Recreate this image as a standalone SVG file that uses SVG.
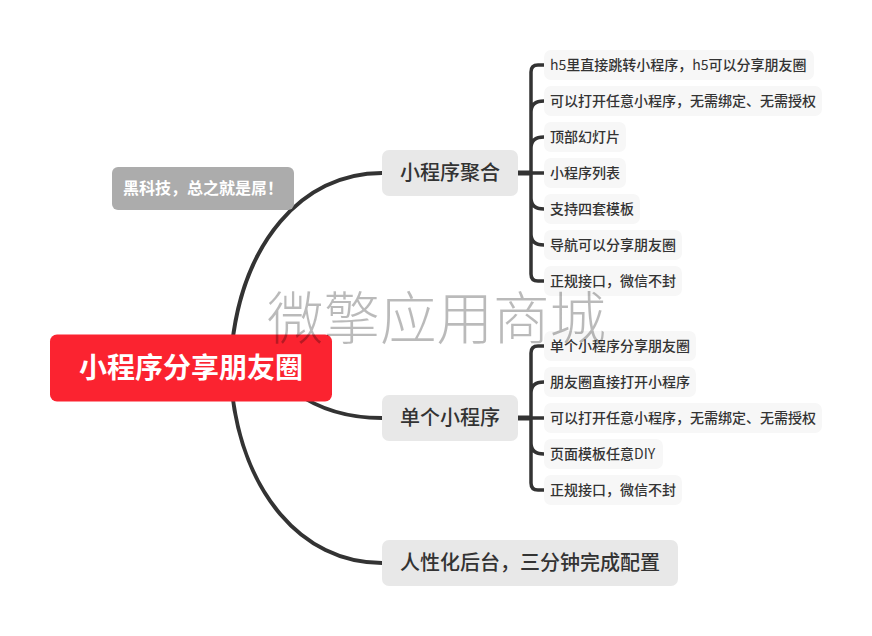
<svg xmlns="http://www.w3.org/2000/svg" width="872" height="636" viewBox="0 0 872 636">
<style>
text{font-family:"Liberation Sans","Noto Sans CJK SC",sans-serif}
.leaf rect{fill:#f7f7f7}
.leaf text{font-size:14px;font-weight:500;fill:#333}
.leaf tspan{font-family:"Noto Sans CJK SC",sans-serif;font-weight:400}
.mid rect{fill:#e8e8e8}
.mid text{font-size:20px;font-weight:500;fill:#333}
.c{fill:none;stroke:#333;stroke-linecap:butt}
.m{stroke-width:4}
.b{stroke-width:3.5}
.s{stroke-width:5}
</style>
<rect width="872" height="636" fill="#fff"/>
<g id="connectors">
<path class="c m" d="M232 345C243 245 300 173 382 173"/>
<path class="c m" d="M232 392C243 490 300 563 382 563"/>
<path class="c m" d="M295 392C320 410 350 418 382 418"/>
<path class="c s" d="M518 173H531"/>
<path class="c b" d="M544 65H538Q531 65 531 72V274Q531 281 538 281H544M544 101Q531 101 531 112M544 137Q531 137 531 148M531 173H544M531 198Q531 209 544 209M531 234Q531 245 544 245"/>
<path class="c s" d="M518 418H531"/>
<path class="c b" d="M544 346H538Q531 346 531 353V483Q531 490 538 490H544M544 382Q531 382 531 393M531 418H544M531 443Q531 454 544 454"/>
</g>
<g id="root"><rect x="50" y="334.5" width="282" height="67" rx="7" fill="#fb2330"/><text x="191" y="378" text-anchor="middle" font-size="28" font-weight="700" fill="#fff">小程序分享朋友圈</text></g>
<g id="note"><rect x="112" y="167" width="182" height="43" rx="6" fill="#acacac"/><text x="123" y="194" font-size="16" font-weight="700" fill="#fff">黑科技，总之就是屌！</text></g>
<g id="n1" class="mid"><rect x="382" y="150" width="136" height="46" rx="7"/><text x="400" y="180">小程序聚合</text></g>
<g id="n2" class="mid"><rect x="382" y="395" width="136" height="46" rx="7"/><text x="400" y="425">单个小程序</text></g>
<g id="n3" class="mid"><rect x="382" y="540" width="296" height="46" rx="7"/><text x="400" y="570">人性化后台，三分钟完成配置</text></g>
<g id="a1" class="leaf"><rect x="544" y="50" width="270" height="30" rx="7"/><text x="550" y="70"><tspan>h5</tspan>里直接跳转小程序，<tspan>h5</tspan>可以分享朋友圈</text></g>
<g id="a2" class="leaf"><rect x="544" y="86" width="278" height="30" rx="7"/><text x="550" y="106">可以打开任意小程序，无需绑定、无需授权</text></g>
<g id="a3" class="leaf"><rect x="544" y="122" width="82" height="30" rx="7"/><text x="550" y="142">顶部幻灯片</text></g>
<g id="a4" class="leaf"><rect x="544" y="158" width="82" height="30" rx="7"/><text x="550" y="178">小程序列表</text></g>
<g id="a5" class="leaf"><rect x="544" y="194" width="96" height="30" rx="7"/><text x="550" y="214">支持四套模板</text></g>
<g id="a6" class="leaf"><rect x="544" y="230" width="138" height="30" rx="7"/><text x="550" y="250">导航可以分享朋友圈</text></g>
<g id="a7" class="leaf"><rect x="544" y="266" width="138" height="30" rx="7"/><text x="550" y="286">正规接口，微信不封</text></g>
<g id="b1" class="leaf"><rect x="544" y="331" width="152" height="30" rx="7"/><text x="550" y="351">单个小程序分享朋友圈</text></g>
<g id="b2" class="leaf"><rect x="544" y="367" width="152" height="30" rx="7"/><text x="550" y="387">朋友圈直接打开小程序</text></g>
<g id="b3" class="leaf"><rect x="544" y="403" width="278" height="30" rx="7"/><text x="550" y="423">可以打开任意小程序，无需绑定、无需授权</text></g>
<g id="b4" class="leaf"><rect x="544" y="439" width="119" height="30" rx="7"/><text x="550" y="459">页面模板任意<tspan>DIY</tspan></text></g>
<g id="b5" class="leaf"><rect x="544" y="475" width="138" height="30" rx="7"/><text x="550" y="495">正规接口，微信不封</text></g>
<text id="watermark" x="267" y="339" font-size="56.5" font-weight="300" fill="#000" fill-opacity=".27">微擎应用商城</text>
</svg>
